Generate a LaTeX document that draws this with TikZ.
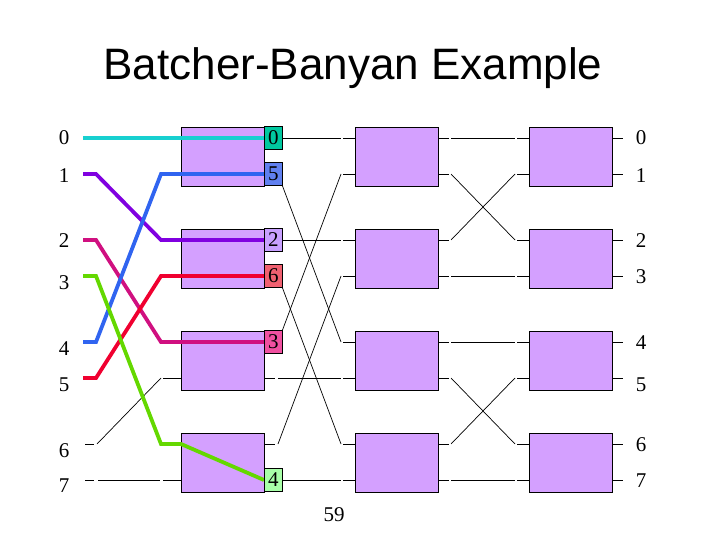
\documentclass[tikz,border=0pt]{standalone}
\usepackage{fontspec}
\setmainfont{Liberation Serif}
\newfontfamily\titlefont{Liberation Sans}
\usetikzlibrary{positioning}

\definecolor{boxfill}{RGB}{212,160,255}
\definecolor{c0}{RGB}{24,208,208}
\definecolor{c1}{RGB}{128,0,224}
\definecolor{c2}{RGB}{208,16,128}
\definecolor{c3}{RGB}{100,216,0}
\definecolor{c4}{RGB}{48,100,240}
\definecolor{c5}{RGB}{240,0,48}
\definecolor{t0}{RGB}{0,200,160}
\definecolor{t2}{RGB}{200,160,255}
\definecolor{t3}{RGB}{240,80,160}
\definecolor{t4}{RGB}{168,255,168}
\definecolor{t5}{RGB}{96,128,240}
\definecolor{t6}{RGB}{240,96,112}

\newcommand{\digitsize}{\fontsize{21}{25}\selectfont}

\begin{document}
\begin{tikzpicture}[
    x=1pt, y=-1pt,
    switch/.style={
        draw=black, line width=0.8pt, fill=boxfill,
        minimum width=83pt, minimum height=59pt, inner sep=0pt
    },
    wire/.style={line width=0.7pt},
    route/.style={line width=3.8pt},
    tag/.style={
        draw=black, line width=0.8pt, anchor=west,
        minimum width=18pt, minimum height=23pt, inner sep=0pt,
        font=\digitsize
    },
    port/.style={font=\digitsize}
]
\useasboundingbox (0,0) rectangle (720,540);

% --- Titulo ---
\node[font=\titlefont\fontsize{44}{50}\selectfont, anchor=base] (title) at (353,80) {Batcher-Banyan Example};

% --- Puertos de cada etapa ---
\foreach \i/\y in {0/138,1/174,2/240,3/276,4/342,5/378,6/444,7/480} {
    \coordinate (in\i) at (83,\y);
    \coordinate (a\i) at (181,\y);
    \coordinate (b\i) at (264,\y);
    \coordinate (c\i) at (355,\y);
    \coordinate (d\i) at (439,\y);
    \coordinate (e\i) at (529,\y);
    \coordinate (f\i) at (613,\y);
}

% --- Entradas sin paquete ---
\draw[wire] ([xshift=2]in6) -- ([xshift=11]in6);
\draw[wire] ([xshift=14]in6) -- ([xshift=-20]a5);
\draw[wire] ([xshift=-18]a5) -- (a5);
\draw[wire] ([xshift=2]in7) -- ([xshift=11]in7);
\draw[wire] ([xshift=15]in7) -- ([xshift=-21]a7);
\draw[wire] ([xshift=-18]a7) -- (a7);

% --- Tramos cortos en los bordes ---
\foreach \i in {0,...,7} {
    \draw[wire] (b\i) -- ++(11,0);
    \draw[wire] ([xshift=-12]c\i) -- (c\i);
    \draw[wire] (d\i) -- ++(10,0);
    \draw[wire] ([xshift=-12]e\i) -- (e\i);
    \draw[wire] (f\i) -- ++(10,0);
}

% --- Etapa 1 -> Etapa 2 ---
\foreach \i/\j in {0/0,1/4,2/2,3/6,4/1,5/5,6/3,7/7}
    \draw[wire] ([xshift=14]b\i) -- ([xshift=-14]c\j);

% --- Etapa 2 -> Etapa 3 ---
\foreach \i/\j in {0/0,1/2,2/1,3/3,4/4,5/6,6/5,7/7}
    \draw[wire] ([xshift=12]d\i) -- ([xshift=-14]e\j);

% --- Conmutadores ---
\foreach \s/\x in {1/222.5, 2/397, 3/571}
    \foreach \k/\y in {0/156.5, 1/258.5, 2/360.5, 3/462.5}
        \node[switch] (sw\s\k) at (\x,\y) {};

% --- Red de Batcher (rutas de los paquetes) ---
\draw[route, draw=c0] (in0) -- (b0);
\draw[route, draw=c1] (in1) -- ++(13,0) -- ([xshift=-20]a2) -- (b2);
\draw[route, draw=c2] (in2) -- ++(13,0) -- ([xshift=-20]a4) -- (b4);
\draw[route, draw=c4] (in4) -- ++(13,0) -- ([xshift=-20]a1) -- (b1);
\draw[route, draw=c5] (in5) -- ++(13,0) -- ([xshift=-20]a3) -- (b3);
\draw[route, draw=c3] (in3) -- ++(13,0) -- ([xshift=-20]a6) -- (a6) -- (b7);

% --- Destinos ordenados ---
\node[tag, fill=t0] (tag0) at (b0) {0};
\node[tag, fill=t5] (tag1) at (b1) {5};
\node[tag, fill=t2] (tag2) at (b2) {2};
\node[tag, fill=t6] (tag3) at (b3) {6};
\node[tag, fill=t3] (tag4) at (b4) {3};
\node[tag, fill=t4] (tag7) at (b7) {4};

% --- Numeros de entrada y salida ---
\foreach \i/\y in {0/138,1/176,2/241,3/283,4/349,5/385,6/451,7/486}
    \node[port] (inl\i) at (64,\y) {\i};
\foreach \i/\y in {0/138,1/176,2/241,3/277,4/343,5/385,6/445,7/481}
    \node[port] (outl\i) at (641,\y) {\i};

% --- Pagina ---
\node[port] (page) at (334,515) {59};

\end{tikzpicture}
\end{document}
